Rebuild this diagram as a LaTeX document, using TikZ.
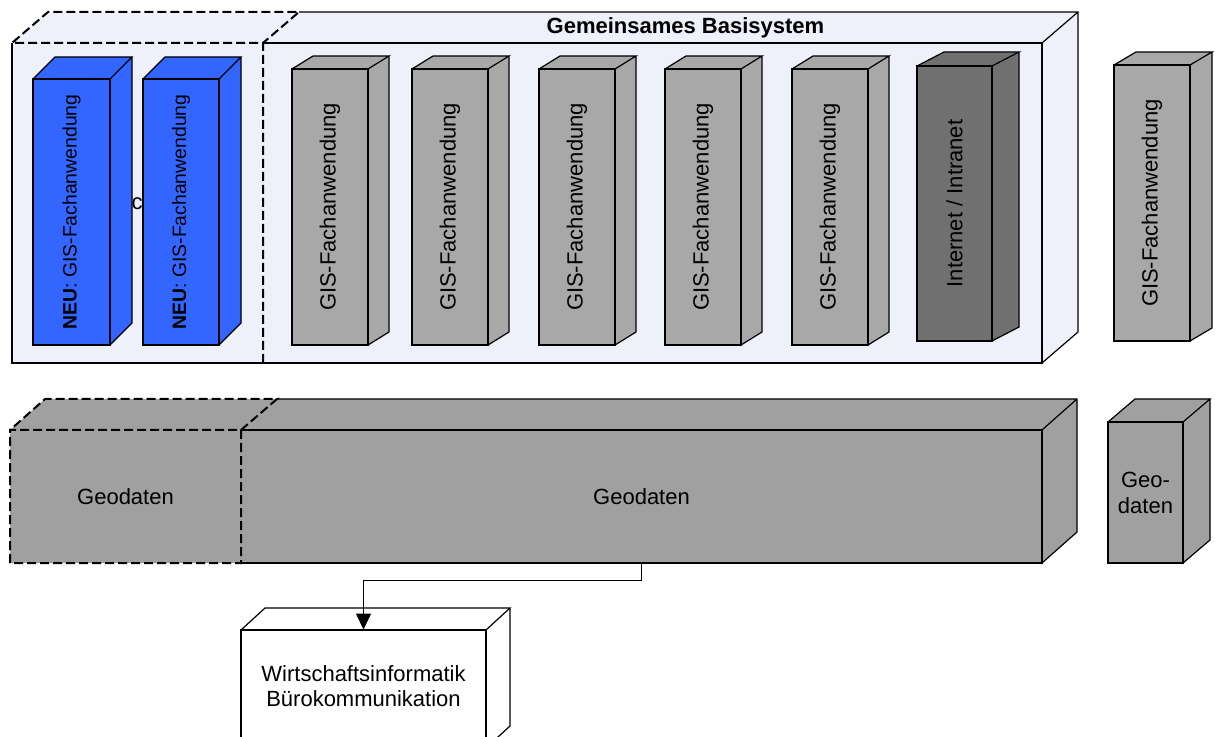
\documentclass[tikz,border=0pt]{standalone}
\usepackage{fontspec}
\setmainfont{Liberation Sans}
\usetikzlibrary{arrows.meta,fit}
\definecolor{basis}{HTML}{EEF0FA}
\definecolor{neu}{HTML}{3366FF}
\definecolor{fach}{HTML}{A8A8A8}
\definecolor{netz}{HTML}{707070}
\definecolor{geo}{HTML}{A0A0A0}
\newcommand{\grund}{\fontsize{11pt}{13pt}\selectfont}
\tikzset{
  kante/.style={draw=black,line width=0.6pt},
  strich/.style={line width=1pt,dash pattern=on 4.5pt off 2pt},
  schrift/.style={font=\grund,inner sep=0pt,align=center},
  hoch/.style={schrift,rotate=90},
  front/.style={inner sep=0pt,fit={#1}},
}
\newcommand{\quader}[8]{%
  \fill[#8] (#2,#3) -- ++(#6,#7) -- ++(#4-#2,0) -- ++(0,#5-#3) -- (#4,#5) -- (#2,#5) -- cycle;
  \draw[kante] (#2,#3) rectangle (#4,#5);
  \draw[kante] (#2,#3) -- ++(#6,#7) -- ++(#4-#2,0) -- (#4,#3) ++(#6,#7) -- ++(0,#5-#3) -- (#4,#5);
  \node[front={(#2,#3) (#4,#5)}] (#1) {};
}
\begin{document}
\begin{tikzpicture}[x=0.5pt,y=-0.5pt]
\clip (0,0) rectangle (1215,737);
\fill[basis] (12,43) -- (48,12) -- (1078,12) -- (1078,332) -- (1042,363) -- (12,363) -- cycle;
\draw[kante] (263,43) -- (1042,43) -- (1042,363) -- (12,363) -- (12,43);
\draw[kante] (299,12) -- (1078,12) -- (1078,332) -- (1042,363) (1042,43) -- (1078,12);
\draw[kante,strich] (263,363) -- (263,43) -- (12,43) -- (48,12) -- (299,12) -- (263,43);
\node[front={(12,43) (1042,363)}] (basis) {};
\node[schrift,font=\grund\bfseries] (titel) at (685.5,28) {Gemeinsames Basisystem};
\quader{neu1}{33}{79}{110}{345}{22}{-22}{neu}
\quader{neu2}{143}{79}{219}{345}{22}{-22}{neu}
\node[hoch,font=\fontsize{9.7pt}{12pt}\selectfont] at (neu1) {\textbf{NEU}: GIS-Fachanwendung};
\node[hoch,font=\fontsize{9.7pt}{12pt}\selectfont] at (neu2) {\textbf{NEU}: GIS-Fachanwendung};
\node[schrift] (c) at (137,204) {c};
\foreach \x [count=\i] in {292,412,539,665,792}{
  \quader{fach\i}{\x}{69}{\x+76}{345}{21}{-13}{fach}
  \node[hoch] at (fach\i) {GIS-Fachanwendung};
}
\quader{netz}{917}{66}{992}{341}{27}{-14}{netz}
\node[hoch] at (netz) {Internet / Intranet};
\quader{fach6}{1114}{65}{1190}{341}{22}{-13}{fach}
\node[hoch] at (fach6) {GIS-Fachanwendung};
\fill[geo] (10,430) -- (45,399) -- (1077,399) -- (1077,532) -- (1042,563) -- (10,563) -- cycle;
\draw[kante] (241,563) -- (1042,563) -- (1042,430) -- (241,430);
\draw[kante] (277,399) -- (1077,399) -- (1077,532) -- (1042,563) (1042,430) -- (1077,399);
\draw[kante,strich] (241,430) -- (241,563) -- (10,563) -- (10,430) -- (241,430) -- (277,399) -- (45,399) -- (10,430);
\node[front={(10,430) (241,563)}] (geoalt) {};
\node[front={(241,430) (1042,563)}] (geo) {};
\node[schrift] at (geoalt) {Geodaten};
\node[schrift] at (geo) {Geodaten};
\quader{geo2}{1108}{422}{1183}{563}{27}{-23}{geo}
\node[schrift] at (geo2) {Geo-\\daten};
\quader{wbk}{241}{630}{486}{748}{24}{-22}{white}
\node[schrift,font=\fontsize{11pt}{12.5pt}\selectfont] at ([yshift=1.5pt]wbk.center) {Wirtschaftsinformatik\\Bürokommunikation};
\draw[kante,-{Triangle[length=8pt,width=7.5pt]}] (geo.south) -- ++(0,17) -| (wbk.north);
\end{tikzpicture}
\end{document}
